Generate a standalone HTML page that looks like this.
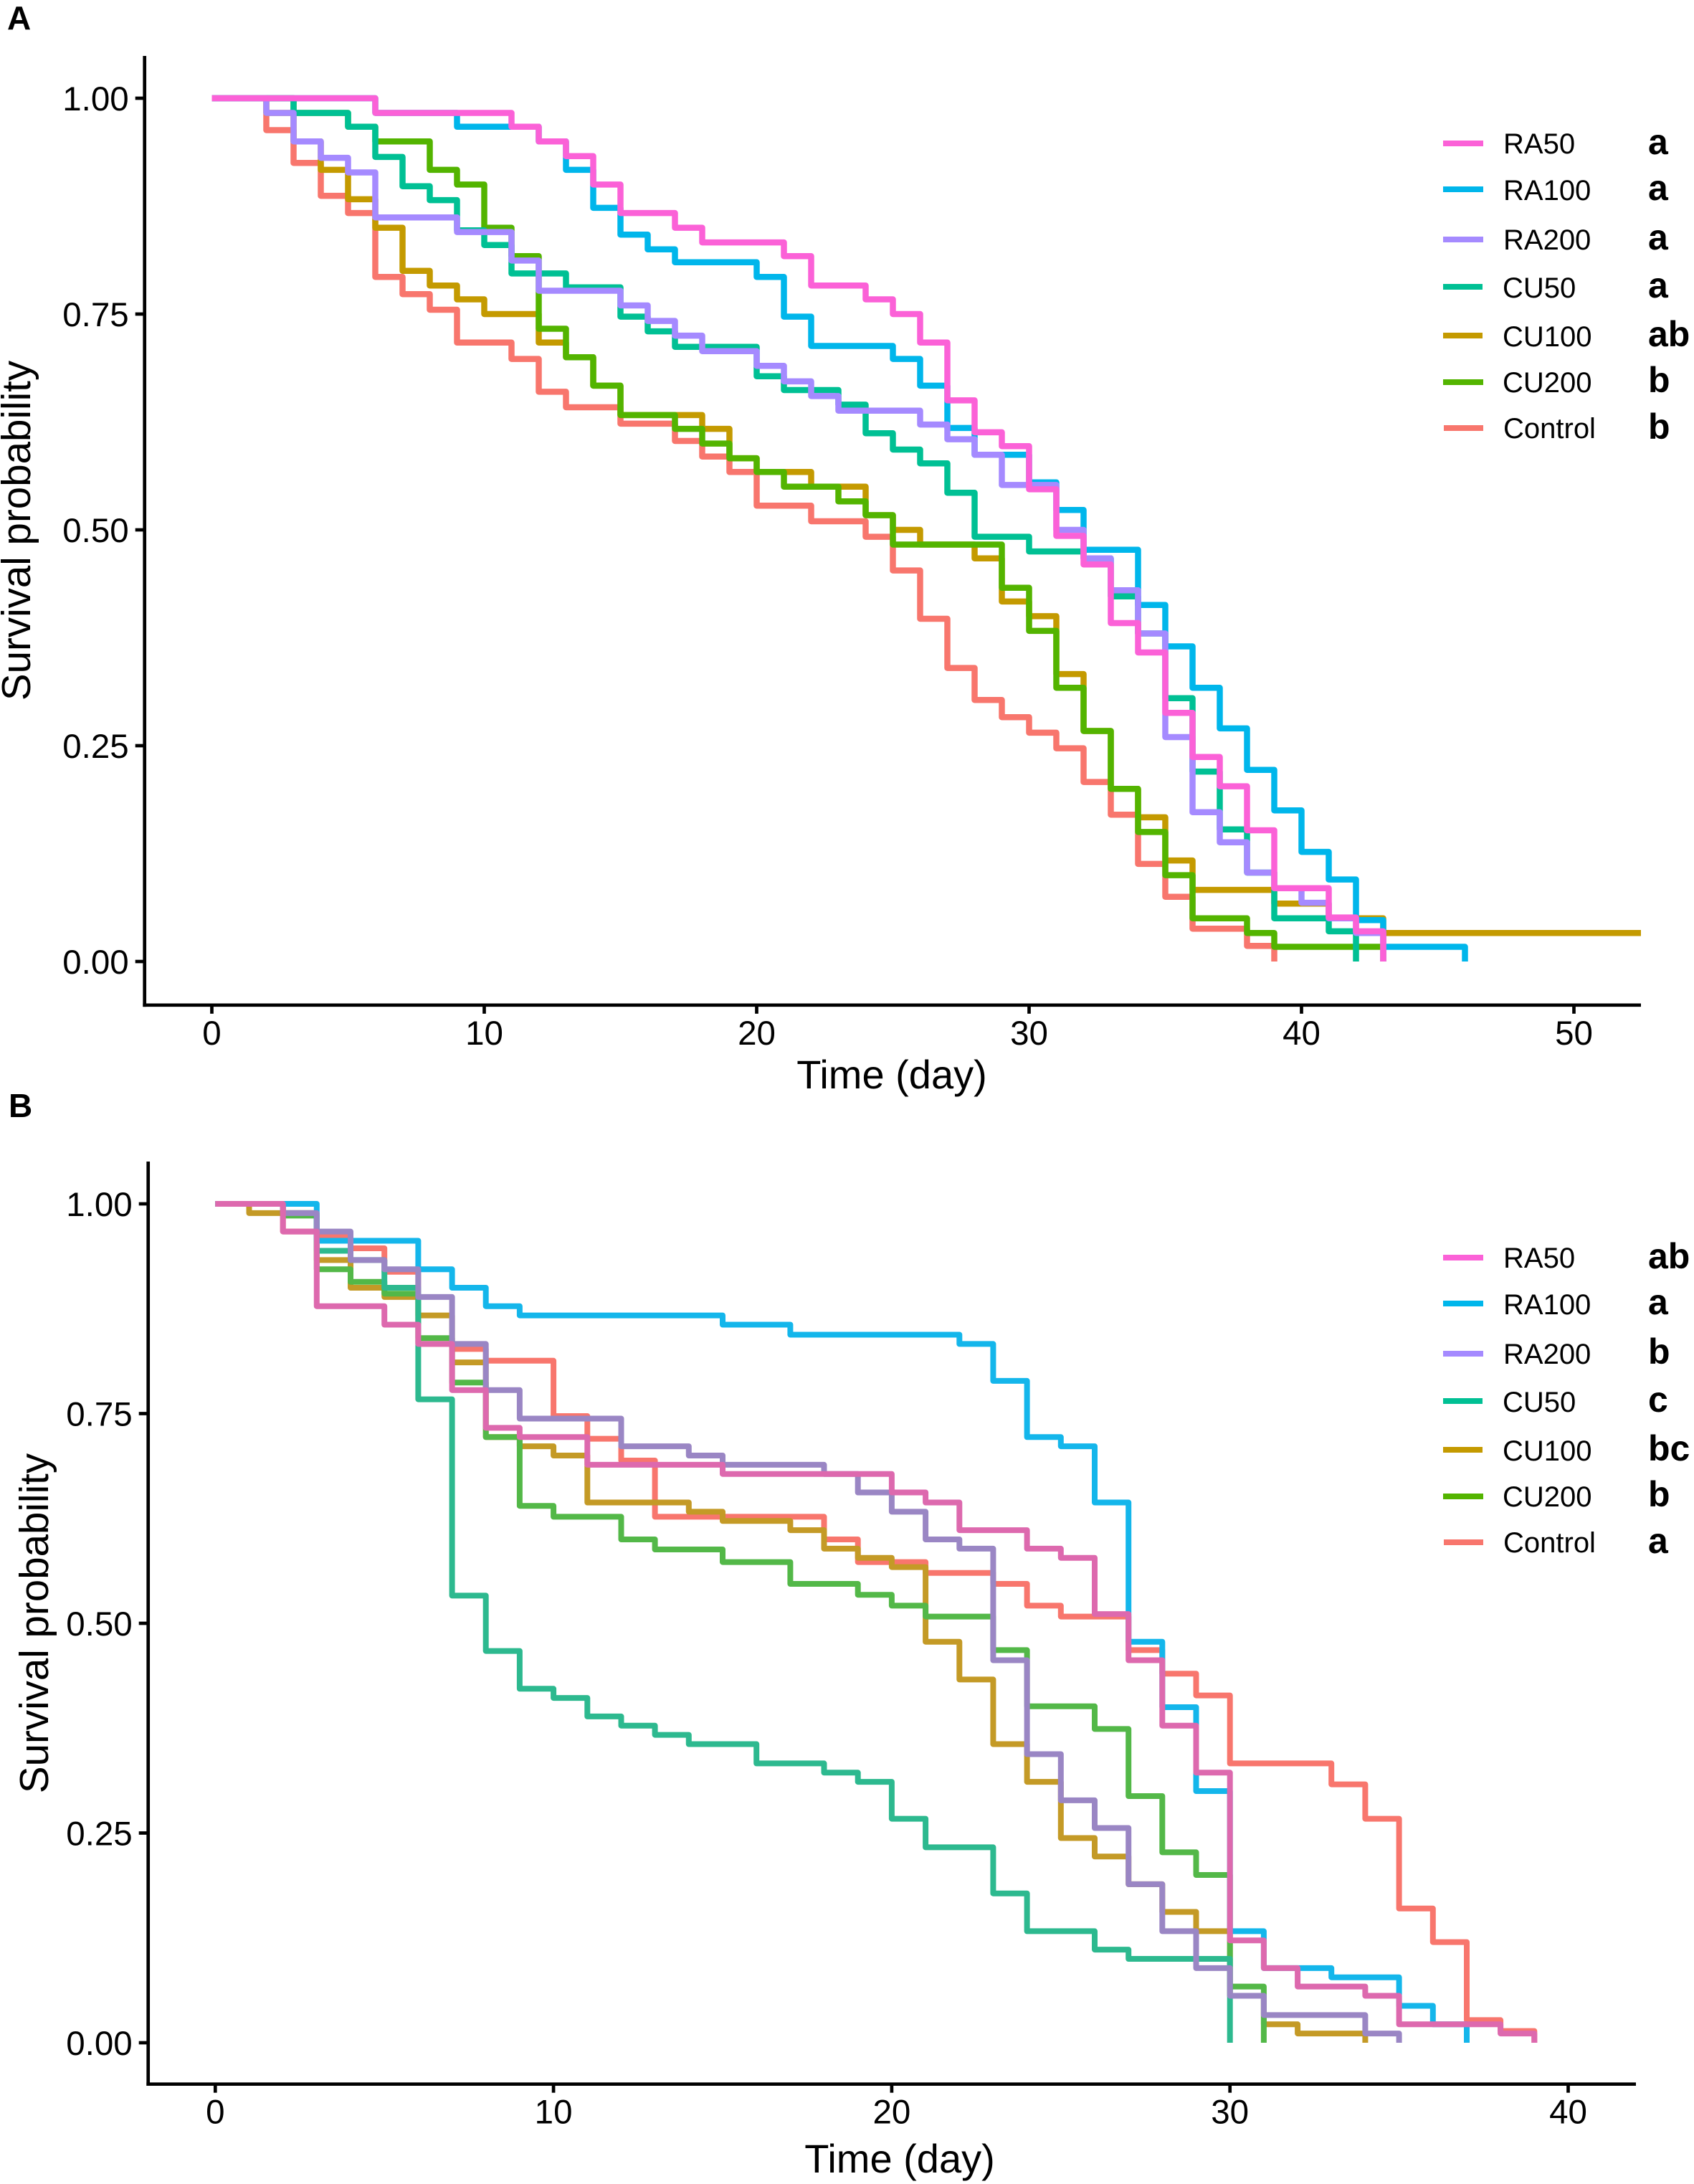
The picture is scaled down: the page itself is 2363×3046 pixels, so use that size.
<!DOCTYPE html>
<html lang="en">
<head>
<meta charset="utf-8">
<title>Survival probability charts</title>
<style>
html,body{margin:0;padding:0;background:#fff;}
svg{display:block;}
text{font-family:"Liberation Sans",Arial,sans-serif;fill:#000;}
</style>
</head>
<body>
<svg id="figure" xmlns="http://www.w3.org/2000/svg" width="2363" height="3046" viewBox="0 0 2363 3046">
  <rect x="0" y="0" width="2363" height="3046" fill="#fff"/>

  <g id="panelA">
    <text x="10" y="41" font-size="46" font-weight="700">A</text>
    <text transform="translate(42,740) rotate(-90)" text-anchor="middle" font-size="56.5">Survival probability</text>
    <text x="1244" y="1518" text-anchor="middle" font-size="56">Time (day)</text>
    <g>
      <line x1="2013" x2="2069" y1="200" y2="200" stroke="#FB61D7" stroke-width="8"/>
      <text x="2097" y="214" font-size="40">RA50</text>
      <text x="2299" y="215" font-size="50" font-weight="700">a</text>
      <line x1="2013" x2="2069" y1="264" y2="264" stroke="#00B6EB" stroke-width="8"/>
      <text x="2097" y="279" font-size="40">RA100</text>
      <text x="2299" y="279" font-size="50" font-weight="700">a</text>
      <line x1="2013" x2="2069" y1="334" y2="334" stroke="#A58AFF" stroke-width="8"/>
      <text x="2097" y="348" font-size="40">RA200</text>
      <text x="2299" y="348" font-size="50" font-weight="700">a</text>
      <line x1="2013" x2="2068" y1="400" y2="400" stroke="#00C094" stroke-width="8"/>
      <text x="2096" y="415" font-size="40">CU50</text>
      <text x="2299" y="415" font-size="50" font-weight="700">a</text>
      <line x1="2013" x2="2068" y1="468" y2="468" stroke="#C49A00" stroke-width="8"/>
      <text x="2096" y="483" font-size="40">CU100</text>
      <text x="2299" y="483" font-size="50" font-weight="700">ab</text>
      <line x1="2013" x2="2069" y1="533" y2="533" stroke="#53B400" stroke-width="8"/>
      <text x="2096" y="547" font-size="40">CU200</text>
      <text x="2299" y="547" font-size="50" font-weight="700">b</text>
      <line x1="2014" x2="2069" y1="597" y2="597" stroke="#F8766D" stroke-width="8"/>
      <text x="2097" y="611" font-size="40">Control</text>
      <text x="2299" y="612" font-size="50" font-weight="700">b</text>
    </g>
  </g>

  <g id="panelB">
    <text x="12" y="1558" font-size="46" font-weight="700">B</text>
    <text transform="translate(67,2264) rotate(-90)" text-anchor="middle" font-size="56.5">Survival probability</text>
    <text x="1255" y="3030" text-anchor="middle" font-size="56">Time (day)</text>
    <g>
      <line x1="2013" x2="2069" y1="1754" y2="1754" stroke="#FB61D7" stroke-width="8"/>
      <text x="2097" y="1768" font-size="40">RA50</text>
      <text x="2299" y="1769" font-size="50" font-weight="700">ab</text>
      <line x1="2013" x2="2069" y1="1818" y2="1818" stroke="#00B6EB" stroke-width="8"/>
      <text x="2097" y="1833" font-size="40">RA100</text>
      <text x="2299" y="1833" font-size="50" font-weight="700">a</text>
      <line x1="2013" x2="2069" y1="1888" y2="1888" stroke="#A58AFF" stroke-width="8"/>
      <text x="2097" y="1902" font-size="40">RA200</text>
      <text x="2299" y="1902" font-size="50" font-weight="700">b</text>
      <line x1="2013" x2="2068" y1="1954" y2="1954" stroke="#00C094" stroke-width="8"/>
      <text x="2096" y="1969" font-size="40">CU50</text>
      <text x="2299" y="1969" font-size="50" font-weight="700">c</text>
      <line x1="2013" x2="2068" y1="2022" y2="2022" stroke="#C49A00" stroke-width="8"/>
      <text x="2096" y="2037" font-size="40">CU100</text>
      <text x="2299" y="2037" font-size="50" font-weight="700">bc</text>
      <line x1="2013" x2="2069" y1="2087" y2="2087" stroke="#53B400" stroke-width="8"/>
      <text x="2096" y="2101" font-size="40">CU200</text>
      <text x="2299" y="2101" font-size="50" font-weight="700">b</text>
      <line x1="2014" x2="2069" y1="2151" y2="2151" stroke="#F8766D" stroke-width="8"/>
      <text x="2097" y="2165" font-size="40">Control</text>
      <text x="2299" y="2166" font-size="50" font-weight="700">a</text>
    </g>
  </g>
</svg>

<script>
// ---------- tick labels ----------
var xTicksA = [0, 10, 20, 30, 40, 50];
var xTicksB = [0, 10, 20, 30, 40];
var yTicks = ["0.00", "0.25", "0.50", "0.75", "1.00"];

// ---------- panel A: step times (days) and survival probabilities ----------
var tA_Control = [0,2,3,4,5,6,7,8,9,11,12,13,15,17,18,19,20,22,24,25,26,27,28,29,30,31,32,33,34,35,36,38,39];
var sA_Control = [1,.963,.925,.887,.867,.793,.773,.755,.717,.698,.66,.642,.623,.603,.585,.567,.528,.51,.492,.453,.397,.34,.303,.283,.265,.247,.208,.17,.113,.075,.038,.018,0];

var tA_CU100 = [0,2,3,4,5,6,7,8,9,10,12,13,14,15,18,19,20,22,24,25,26,28,29,30,31,32,33,34,35,36,39,41,43,52.46];
var sA_CU100 = [1,.983,.95,.917,.883,.85,.8,.783,.767,.75,.717,.7,.667,.633,.617,.583,.567,.55,.517,.5,.483,.467,.417,.4,.333,.267,.2,.167,.117,.083,.067,.05,.033,.033];

var tA_CU200 = [0,3,5,6,8,9,10,11,12,13,14,15,17,18,19,20,21,23,24,25,29,30,31,32,33,34,35,36,38,39,43];
var sA_CU200 = [1,.983,.967,.95,.917,.9,.85,.817,.733,.7,.667,.633,.617,.6,.583,.567,.55,.533,.517,.483,.433,.383,.317,.267,.2,.15,.1,.05,.033,.017,0];

var tA_CU50 = [0,3,5,6,7,8,9,10,11,13,15,16,17,20,21,23,24,25,26,27,28,30,32,33,34,35,36,37,38,39,41,42];
var sA_CU50 = [1,.983,.967,.932,.898,.882,.847,.83,.797,.781,.747,.73,.712,.678,.662,.645,.612,.593,.577,.543,.492,.475,.467,.423,.38,.305,.22,.153,.103,.05,.035,0];

var tA_RA100 = [0,6,9,12,13,14,15,16,17,20,21,22,25,26,27,28,30,31,32,34,35,36,37,38,39,40,41,42,43,46];
var sA_RA100 = [1,.983,.967,.95,.917,.873,.842,.825,.81,.793,.747,.713,.698,.667,.618,.587,.555,.523,.477,.413,.365,.317,.27,.222,.175,.127,.095,.048,.017,0];

var tA_RA200 = [0,2,3,4,5,6,9,11,12,15,16,17,18,20,21,22,23,26,27,28,29,31,32,33,34,35,36,37,38,39,40,41,42,43];
var sA_RA200 = [1,.983,.95,.931,.914,.862,.845,.812,.777,.76,.742,.725,.707,.69,.672,.655,.638,.622,.605,.587,.552,.5,.467,.43,.38,.26,.173,.138,.103,.085,.068,.05,.033,0];

var tA_RA50 = [0,6,11,12,13,14,15,17,18,21,22,24,25,26,27,28,29,30,31,32,33,34,35,36,37,38,39,41,42,43];
var sA_RA50 = [1,.983,.967,.95,.933,.9,.867,.85,.833,.817,.783,.767,.75,.717,.65,.613,.597,.547,.493,.46,.392,.358,.288,.237,.203,.152,.085,.051,.035,0];

// ---------- panel B: step times (days) and survival probabilities ----------
var tB_Control = [0,2,3,4,5,6,7,8,10,11,12,13,18,19,21,23,24,25,27,28,29,30,33,34,35,36,37,38,39];
var sB_Control = [1,.967,.962,.947,.919,.833,.827,.813,.747,.72,.694,.627,.6,.573,.56,.547,.521,.508,.468,.44,.414,.333,.308,.267,.16,.12,.027,.014,0];

var tB_CU100 = [0,1,3,4,5,6,7,8,9,10,11,14,15,17,18,19,20,21,22,23,24,25,26,27,28,29,30,31,32,34];
var sB_CU100 = [1,.989,.933,.9,.889,.867,.811,.722,.711,.7,.644,.633,.622,.611,.589,.578,.567,.478,.433,.356,.311,.244,.222,.189,.156,.133,.056,.022,.011,0];

var tB_CU200 = [0,2,3,4,5,6,7,8,9,10,12,13,15,17,19,20,21,23,24,26,27,28,29,30,31];
var sB_CU200 = [1,.986,.922,.907,.893,.84,.787,.722,.64,.627,.6,.588,.573,.547,.534,.521,.508,.468,.401,.374,.294,.227,.2,.067,0];

var tB_CU50 = [0,2,3,4,5,6,7,8,9,10,11,12,13,14,16,18,19,20,21,23,24,26,27,30];
var sB_CU50 = [1,.989,.944,.933,.9,.767,.533,.467,.422,.411,.389,.378,.367,.356,.333,.322,.311,.267,.233,.178,.133,.111,.1,0];

var tB_RA100 = [0,3,6,7,8,9,15,17,22,23,24,25,26,27,28,29,30,31,33,35,36,37];
var sB_RA100 = [1,.956,.922,.9,.878,.867,.856,.844,.833,.789,.722,.711,.644,.478,.4,.3,.133,.089,.078,.044,.022,0];

var tB_RA200 = [0,2,3,4,5,6,7,8,9,12,14,15,18,19,20,21,22,23,24,25,26,27,28,29,30,31,34,35];
var sB_RA200 = [1,.989,.967,.933,.922,.889,.833,.778,.744,.711,.7,.689,.678,.656,.633,.6,.589,.456,.344,.289,.256,.189,.133,.089,.056,.033,.011,0];

var tB_RA50 = [0,2,3,5,6,7,8,9,11,15,20,21,22,24,25,26,27,28,29,30,31,32,34,35,38,39];
var sB_RA50 = [1,.967,.878,.856,.833,.778,.733,.722,.689,.678,.656,.644,.611,.589,.578,.511,.456,.378,.322,.122,.089,.067,.056,.022,.011,0];

// ---------- axis functions ----------
function xScaleA(t){ return 295.5 + 38 * t; }
function yScaleA(s){ return 1341 - 1204 * s; }
function xScaleB(t){ return 300.3 + 47.18 * t; }
function yScaleB(s){ return 2849 - 1170 * s; }

var NS = "http://www.w3.org/2000/svg";

function make(tag, parent){
  var el = document.createElementNS(NS, tag);
  parent.appendChild(el);
  return el;
}

function stepPath(times, surv, xf, yf){
  var d = "M" + xf(times[0]).toFixed(1) + " " + yf(surv[0]).toFixed(1);
  for (var i = 1; i < times.length; i++){
    var x = xf(times[i]).toFixed(1);
    d += "H" + x;
    d += "V" + yf(surv[i]).toFixed(1);
  }
  return d;
}

function drawSeries(parent, prefix, key, times, surv, xf, yf, color, width){
  var p = make("path", parent);
  
  
  p.setAttribute("d", stepPath(times, surv, xf, yf));
  p.setAttribute("fill", "none");
  p.setAttribute("stroke", color);
  p.setAttribute("stroke-width", width);
  p.setAttribute("stroke-linejoin", "round");
  p.setAttribute("stroke-linecap", "butt");
}

function drawAxes(parent, prefix, xf, yf, xTicks, cfg){
  var sw = 4.7;
  var yAxis = make("line", parent);
  
  
  yAxis.setAttribute("x1", cfg.left);
  yAxis.setAttribute("x2", cfg.left);
  yAxis.setAttribute("y1", cfg.top);
  yAxis.setAttribute("y2", cfg.bottom + sw / 2);
  yAxis.setAttribute("stroke", "#000");
  yAxis.setAttribute("stroke-width", sw);

  var xAxis = make("line", parent);
  
  
  xAxis.setAttribute("x1", cfg.left - sw / 2);
  xAxis.setAttribute("x2", cfg.right);
  xAxis.setAttribute("y1", cfg.bottom);
  xAxis.setAttribute("y2", cfg.bottom);
  xAxis.setAttribute("stroke", "#000");
  xAxis.setAttribute("stroke-width", sw);

  xTicks.forEach(function(v){
    var t = make("line", parent);
    
    
    t.setAttribute("x1", xf(v));
    t.setAttribute("x2", xf(v));
    t.setAttribute("y1", cfg.bottom);
    t.setAttribute("y2", cfg.bottom + 12);
    t.setAttribute("stroke", "#000");
    t.setAttribute("stroke-width", sw);

    var l = make("text", parent);
    
    
    l.setAttribute("x", xf(v));
    l.setAttribute("y", cfg.bottom + 55);
    l.setAttribute("text-anchor", "middle");
    l.setAttribute("font-size", "47.5");
    l.textContent = String(v);
  });

  yTicks.forEach(function(lab){
    var v = parseFloat(lab);
    var t = make("line", parent);
    
    
    t.setAttribute("x1", cfg.left - 13);
    t.setAttribute("x2", cfg.left);
    t.setAttribute("y1", yf(v));
    t.setAttribute("y2", yf(v));
    t.setAttribute("stroke", "#000");
    t.setAttribute("stroke-width", sw);

    var l = make("text", parent);
    
    
    l.setAttribute("x", cfg.left - 22);
    l.setAttribute("y", yf(v) + 17);
    l.setAttribute("text-anchor", "end");
    l.setAttribute("font-size", "47.5");
    l.textContent = lab;
  });
}

var gA = document.getElementById("panelA");
var gB = document.getElementById("panelB");

drawAxes(gA, "panel-a", xScaleA, yScaleA, xTicksA, {left:201.7, right:2289, top:78, bottom:1401.8});
drawAxes(gB, "panel-b", xScaleB, yScaleB, xTicksB, {left:206.7, right:2282, top:1620, bottom:2906.7});

drawSeries(gA, "panel-a", "control", tA_Control, sA_Control, xScaleA, yScaleA, "#F8766D", 8.5);
drawSeries(gA, "panel-a", "cu100", tA_CU100, sA_CU100, xScaleA, yScaleA, "#C49A00", 8.5);
drawSeries(gA, "panel-a", "cu200", tA_CU200, sA_CU200, xScaleA, yScaleA, "#53B400", 8.5);
drawSeries(gA, "panel-a", "cu50", tA_CU50, sA_CU50, xScaleA, yScaleA, "#00C094", 8.5);
drawSeries(gA, "panel-a", "ra100", tA_RA100, sA_RA100, xScaleA, yScaleA, "#00B6EB", 8.5);
drawSeries(gA, "panel-a", "ra200", tA_RA200, sA_RA200, xScaleA, yScaleA, "#A58AFF", 8.5);
drawSeries(gA, "panel-a", "ra50", tA_RA50, sA_RA50, xScaleA, yScaleA, "#FB61D7", 8.5);

drawSeries(gB, "panel-b", "control", tB_Control, sB_Control, xScaleB, yScaleB, "#F8766D", 8);
drawSeries(gB, "panel-b", "cu100", tB_CU100, sB_CU100, xScaleB, yScaleB, "#C49A26", 8);
drawSeries(gB, "panel-b", "cu200", tB_CU200, sB_CU200, xScaleB, yScaleB, "#53B848", 8);
drawSeries(gB, "panel-b", "cu50", tB_CU50, sB_CU50, xScaleB, yScaleB, "#2DB98F", 8);
drawSeries(gB, "panel-b", "ra100", tB_RA100, sB_RA100, xScaleB, yScaleB, "#14B6EB", 8);
drawSeries(gB, "panel-b", "ra200", tB_RA200, sB_RA200, xScaleB, yScaleB, "#9A86C4", 8);
drawSeries(gB, "panel-b", "ra50", tB_RA50, sB_RA50, xScaleB, yScaleB, "#DD69AE", 8);
</script>
</body>
</html>
